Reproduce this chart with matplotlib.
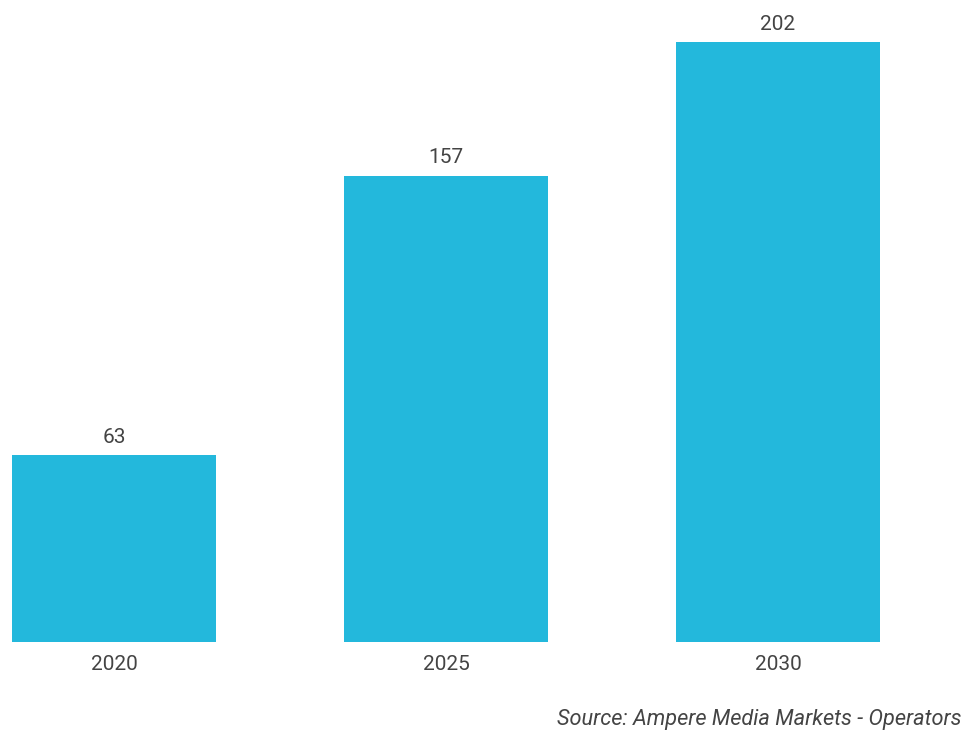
import matplotlib.pyplot as plt

bar_blue = '#23b8dc'
text_grey = '#444444'

years = ['2020', '2025', '2030']
values = [63, 157, 202]
source = 'Source: Ampere Media Markets - Operators'

plt.rcParams['font.family'] = ['Roboto', 'DejaVu Sans']

fig = plt.figure(figsize=(9.70, 7.39), dpi=100)
ax = fig.add_axes([12 / 970, 1 - 642 / 739, 868 / 970, 600 / 739])

x = range(len(years))
bars = ax.bar(x, values, width=0.614, color=bar_blue)
ax.set_xlim(-0.307, 2.307)
ax.set_ylim(0, 202)

for b, v in zip(bars, values):
	ax.annotate(str(v), (b.get_x() + b.get_width() / 2, v), xytext=(0, 6),
		textcoords='offset points', ha='center', va='bottom',
		fontsize=15, color=text_grey)

ax.set_xticks(list(x))
ax.set_xticklabels(years, fontsize=15, color=text_grey)
ax.tick_params(axis='x', length=0, pad=9)
ax.set_yticks([])
for s in ax.spines.values():
	s.set_visible(False)

fig.text(962 / 970, 1 - 719 / 739, source, ha='right', va='center',
	fontsize=15.7, style='italic', color=text_grey)

plt.savefig('out.png', dpi=100)
